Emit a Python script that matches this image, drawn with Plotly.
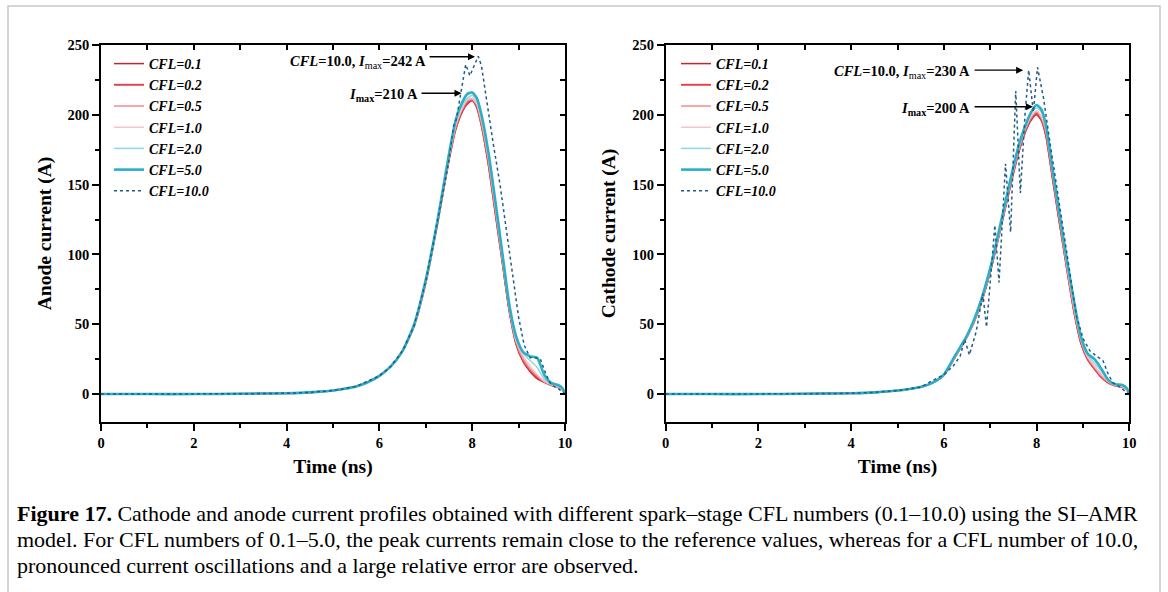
import plotly.graph_objects as go

W, H = 1168, 592

# ---------------- data ----------------
cfl_labels = ["CFL=0.1", "CFL=0.2", "CFL=0.5", "CFL=1.0", "CFL=2.0", "CFL=5.0", "CFL=10.0"]

t_grid = [0, 1, 2, 3, 4, 4.5, 5, 5.25, 5.5, 5.75, 6, 6.25, 6.5, 6.75, 7, 7.25, 7.5, 7.65,
          7.8, 7.9, 8.0, 8.1, 8.2, 8.35, 8.5, 8.65, 8.8, 8.95, 9.1, 9.25, 9.4, 9.55, 9.7,
          9.85, 9.95, 10]

# Anode current (left panel)
anode_01 = [0, 0, 0, 0.2, 0.6, 1.2, 2.5, 3.8, 5.5, 8.5, 13, 20, 31, 49, 80, 122, 168, 190,
            203, 208, 210, 205, 192, 164, 129, 94, 59, 35, 23, 16, 11, 8.5, 6.5, 5, 3, 0]
anode_02 = [0, 0, 0, 0.2, 0.6, 1.2, 2.5, 3.8, 5.5, 8.5, 13, 20, 31, 49, 80, 122, 168, 191,
            204, 209, 211, 206, 193, 165, 130, 95, 60, 36, 24, 17, 12, 9, 6.5, 5, 3, 0]
anode_05 = [0, 0, 0, 0.2, 0.6, 1.2, 2.5, 3.8, 5.5, 8.5, 13, 20, 31, 49, 80, 122, 169, 192,
            205, 210, 211, 207, 194, 167, 132, 96, 61, 37, 25, 18, 13, 9, 6.5, 5, 3, 0]
anode_10 = [0, 0, 0, 0.2, 0.6, 1.2, 2.5, 3.8, 5.5, 8.5, 13, 20, 31, 49, 81, 123, 170, 193,
            206, 211, 212, 208, 196, 169, 134, 98, 62, 38, 27, 20, 14, 9.5, 7, 5.5, 3, 0]
anode_20 = [0, 0, 0, 0.2, 0.6, 1.2, 2.5, 3.8, 5.5, 8.5, 13, 20, 31, 50, 81, 124, 171, 195,
            208, 212, 214, 210, 198, 171, 136, 99, 63, 39, 29, 24, 19, 11, 7.5, 6, 3.5, 0]
anode_50 = [0, 0, 0, 0.2, 0.6, 1.2, 2.5, 3.8, 5.5, 8.5, 13, 20, 31, 50, 82, 124, 172, 197,
            210, 215, 216, 212, 200, 173, 138, 101, 64, 41, 30, 27, 26, 14, 8, 6.5, 4, 0]

t_cfl10_anode = [0, 1, 2, 3, 4, 4.5, 5, 5.5, 6, 6.25, 6.5, 6.75, 7, 7.25, 7.5, 7.6, 7.66,
                 7.75, 7.86, 7.95, 8.05, 8.13, 8.2, 8.3, 8.45, 8.6, 8.8, 9.0, 9.12, 9.25,
                 9.35, 9.47, 9.58, 9.7, 9.85, 10]
anode_100 = [0, 0, 0, 0.2, 0.6, 1.2, 2.5, 5.5, 13, 20, 31, 49, 81, 123, 168, 192, 197,
             215, 236, 228, 236, 242, 235, 212, 180, 150, 102, 55, 35, 26, 26, 25, 15,
             6.5, 4, 0]

# Cathode current (right panel)
cathode_01 = [0, 0, 0, 0.2, 0.6, 1.2, 2.5, 3.6, 5, 8, 13.5, 27, 41, 60, 87, 122, 158, 177,
              191, 197, 200, 196, 185, 153, 121, 90, 60, 37, 25, 18, 12, 8, 6, 5, 3, 0]
cathode_02 = [0, 0, 0, 0.2, 0.6, 1.2, 2.5, 3.6, 5, 8, 13.5, 27, 41, 60, 88, 123, 159, 178,
              192, 198, 201, 197, 186, 154, 122, 91, 61, 38, 25, 18, 12, 8, 6, 5, 3, 0]
cathode_05 = [0, 0, 0, 0.2, 0.6, 1.2, 2.5, 3.6, 5, 8, 13.5, 27, 41, 60, 88, 123, 160, 179,
              193, 199, 202, 198, 188, 156, 124, 92, 62, 39, 26, 19, 13, 8.5, 6, 5, 3, 0]
cathode_10 = [0, 0, 0, 0.2, 0.6, 1.2, 2.5, 3.6, 5, 8, 13.5, 27, 41, 61, 89, 124, 161, 180,
              194, 200, 203, 199, 190, 158, 126, 94, 64, 40, 27, 20, 14, 9, 6.5, 5.5, 3, 0]
cathode_20 = [0, 0, 0, 0.2, 0.6, 1.2, 2.5, 3.6, 5, 8, 14, 28, 42, 62, 90, 125, 162, 181,
              195, 202, 205, 202, 192, 160, 128, 96, 66, 41, 28, 22, 16, 10, 7, 6, 3.5, 0]
cathode_50 = [0, 0, 0, 0.2, 0.6, 1.2, 2.5, 3.6, 5, 8, 14, 28, 42, 62, 90, 126, 163, 182,
              196, 203, 207, 204, 193, 160, 128, 97, 68, 42, 29, 25, 18, 10, 7, 6.5, 4, 0]

t_cfl10_cathode = [0, 1, 2, 3, 4, 4.5, 5, 5.5, 6, 6.2, 6.35, 6.45, 6.55, 6.7, 6.84, 6.92,
                   7.02, 7.1, 7.19, 7.27, 7.33, 7.44, 7.5, 7.55, 7.65, 7.75, 7.83, 7.93,
                   8.02, 8.15, 8.28, 8.43, 8.57, 8.72, 8.86, 9.0, 9.15, 9.3, 9.43, 9.55,
                   9.65, 9.8, 9.94, 10]
cathode_100 = [0, 0, 0, 0.2, 0.6, 1.2, 2.5, 5, 14, 20, 27, 39, 28, 45, 72, 48, 88, 121, 80,
               130, 165, 116, 175, 217, 144, 200, 232, 202, 234, 212, 182, 150, 120, 88,
               56, 40, 31, 27, 24, 14, 8, 5, 1, 0]

x_ticks = [0, 2, 4, 6, 8, 10]
y_ticks = [0, 50, 100, 150, 200, 250]

caption_lines = [
    "<b>Figure 17.</b> Cathode and anode current profiles obtained with different spark–stage CFL numbers (0.1–10.0) using the SI–AMR",
    "model. For CFL numbers of 0.1–5.0, the peak currents remain close to the reference values, whereas for a CFL number of 10.0,",
    "pronounced current oscillations and a large relative error are observed.",
]

# ---------------- styles ----------------
colors = ["#C0272D", "#E4444F", "#F08C90", "#F6C3C8", "#8FD8E3", "#2AAFC6", "#1F5C86"]
widths = [1.5, 2.0, 1.5, 1.5, 1.5, 2.6, 1.5]
dashes = ["solid"] * 6 + ["dot"]

anode_series = [anode_01, anode_02, anode_05, anode_10, anode_20, anode_50]
cathode_series = [cathode_01, cathode_02, cathode_05, cathode_10, cathode_20, cathode_50]

fig = go.Figure()

def add_panel(series, t10, s10, xa, ya, legend):
    for i, s in enumerate(series):
        fig.add_trace(go.Scatter(
            x=t_grid, y=s, mode="lines", name=cfl_labels[i],
            line=dict(color=colors[i], width=widths[i], dash=dashes[i], shape="spline", smoothing=0.6),
            xaxis=xa, yaxis=ya, legend=legend, hoverinfo="skip"))
    fig.add_trace(go.Scatter(
        x=t10, y=s10, mode="lines", name=cfl_labels[6],
        line=dict(color=colors[6], width=widths[6], dash=dashes[6]),
        xaxis=xa, yaxis=ya, legend=legend, hoverinfo="skip"))

add_panel(anode_series, t_cfl10_anode, anode_100, "x", "y", "legend")
add_panel(cathode_series, t_cfl10_cathode, cathode_100, "x2", "y2", "legend2")

SERIF = "Liberation Serif"
tickfont = dict(family=SERIF, size=14.5, color="black", weight="bold")
titlefont = dict(family=SERIF, size=19.5, color="black", weight="bold")

def px_x(p):
    return p / W

def px_y(p):
    return 1 - p / H

xdomL = [px_x(101), px_x(565)]
xdomR = [px_x(665.7), px_x(1129.3)]
ydom = [px_y(422), px_y(45)]

common_x = dict(range=[0, 10], tickvals=x_ticks, ticks="outside", ticklen=7, tickwidth=1.5,
                showline=True, linecolor="black", linewidth=1.5, showgrid=False, zeroline=False,
                tickfont=tickfont, title_font=titlefont, automargin=False,
                minor=dict(dtick=1, tick0=0, ticks="outside", ticklen=4, tickwidth=1.5, tickcolor="black", showgrid=False),
                tickcolor="black", fixedrange=True)
common_y = dict(range=[-20, 250], tickvals=y_ticks, ticks="outside", ticklen=7, tickwidth=1.5,
                showline=True, linecolor="black", linewidth=1.5, showgrid=False, zeroline=False,
                tickfont=tickfont, title_font=titlefont, automargin=False,
                minor=dict(dtick=25, tick0=0, ticks="outside", ticklen=4, tickwidth=1.5, tickcolor="black", showgrid=False),
                tickcolor="black", fixedrange=True)
mirror_x = dict(range=[0, 10], dtick=1, tick0=0, ticks="inside", ticklen=5, tickwidth=1.5, tickcolor="black",
                showline=True, linecolor="black", linewidth=1.5, showgrid=False, zeroline=False,
                showticklabels=False, side="top", fixedrange=True)
mirror_y = dict(range=[-20, 250], dtick=25, tick0=0, ticks="inside", ticklen=5, tickwidth=1.5, tickcolor="black",
                showline=True, linecolor="black", linewidth=1.5, showgrid=False, zeroline=False,
                showticklabels=False, side="right", fixedrange=True)

legend_common = dict(font=dict(family=SERIF, size=14, color="black", weight="bold", style="italic"),
                     bgcolor="rgba(0,0,0,0)", borderwidth=0, xanchor="left", yanchor="top",
                     itemclick=False, itemdoubleclick=False, tracegroupgap=0)

fig.update_layout(
    width=W, height=H, margin=dict(l=0, r=0, t=0, b=0),
    paper_bgcolor="white", plot_bgcolor="white", showlegend=True,
    xaxis=dict(domain=xdomL, anchor="y", title=dict(text="Time (ns)", standoff=9), **common_x),
    yaxis=dict(domain=ydom, anchor="x", title=dict(text="Anode current (A)", standoff=11), **common_y),
    xaxis2=dict(domain=xdomR, anchor="y2", title=dict(text="Time (ns)", standoff=9), **common_x),
    yaxis2=dict(domain=ydom, anchor="x2", title=dict(text="Cathode current (A)", standoff=11), **common_y),
    xaxis3=dict(overlaying="x", anchor="y", **mirror_x),
    yaxis3=dict(overlaying="y", anchor="x", **mirror_y),
    xaxis4=dict(overlaying="x2", anchor="y2", **mirror_x),
    yaxis4=dict(overlaying="y2", anchor="x2", **mirror_y),
    legend=dict(x=px_x(109), y=px_y(48), **legend_common),
    legend2=dict(x=px_x(676), y=px_y(48), **legend_common),
)

# empty traces so the mirror axes exist
fig.add_trace(go.Scatter(x=[], y=[], xaxis="x3", yaxis="y3", showlegend=False))
fig.add_trace(go.Scatter(x=[], y=[], xaxis="x4", yaxis="y4", showlegend=False))

ann_font = dict(family=SERIF, size=14.5, color="black", weight="bold")
cfl10_txt = "<i>CFL</i>=10.0, <i>I</i><sub style='font-weight:normal'>max</sub>=%d A"
imax_txt = "<i>I</i><sub>max</sub>=%d A"

annotations = [
    # left panel
    dict(x=7.05, y=238, xref="x", yref="y", text=cfl10_txt % 242, showarrow=False, xanchor="right", yanchor="middle", font=ann_font),
    dict(x=8.06, y=241.6, ax=7.05, ay=241.6, xref="x", yref="y", axref="x", ayref="y", text="",
         showarrow=True, arrowhead=2, arrowsize=1, arrowwidth=1.4, arrowcolor="black"),
    dict(x=6.875, y=214, xref="x", yref="y", text=imax_txt % 210, showarrow=False, xanchor="right", yanchor="middle", font=ann_font),
    dict(x=7.77, y=215.4, ax=6.875, ay=215.4, xref="x", yref="y", axref="x", ayref="y", text="",
         showarrow=True, arrowhead=2, arrowsize=1, arrowwidth=1.4, arrowcolor="black"),
    # right panel
    dict(x=6.61, y=231, xref="x2", yref="y2", text=cfl10_txt % 230, showarrow=False, xanchor="right", yanchor="middle", font=ann_font),
    dict(x=7.71, y=232, ax=6.63, ay=232, xref="x2", yref="y2", axref="x2", ayref="y2", text="",
         showarrow=True, arrowhead=2, arrowsize=1, arrowwidth=1.4, arrowcolor="black"),
    dict(x=6.61, y=204.5, xref="x2", yref="y2", text=imax_txt % 200, showarrow=False, xanchor="right", yanchor="middle", font=ann_font),
    dict(x=7.92, y=205.8, ax=6.63, ay=205.8, xref="x2", yref="y2", axref="x2", ayref="y2", text="",
         showarrow=True, arrowhead=2, arrowsize=1, arrowwidth=1.4, arrowcolor="black"),
]
# caption, one annotation per line
for k, line in enumerate(caption_lines):
    annotations.append(dict(x=px_x(15), y=px_y(513 + 26 * k), xref="paper", yref="paper",
                            xanchor="left", yanchor="middle", align="left", showarrow=False,
                            font=dict(family=SERIF, size=22, color="black"), text=line))
fig.update_layout(annotations=annotations)

# figure frame
fig.add_shape(type="rect", xref="paper", yref="paper", x0=px_x(8), x1=px_x(1160), y0=-0.1, y1=px_y(6),
              line=dict(color="#C8C8C8", width=1.5), fillcolor="rgba(0,0,0,0)", layer="below")

fig.write_html("out.html")
